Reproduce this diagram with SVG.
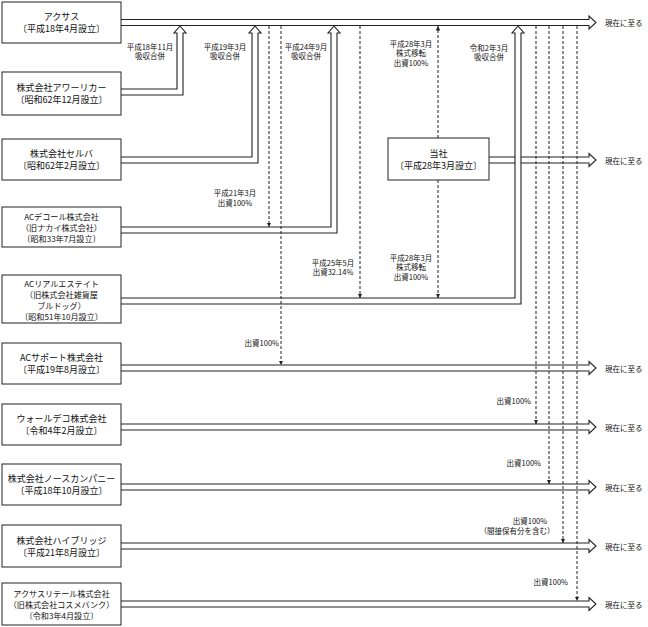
<svg xmlns="http://www.w3.org/2000/svg" width="648" height="627" viewBox="0 0 648 627">
<defs>
<style>
.box{fill:#fff;stroke:#222;stroke-width:1}
.bt{font-family:"Noto Sans CJK JP","Noto Sans",sans-serif;font-size:9px;fill:#111;text-anchor:middle;dominant-baseline:central}
.bm{font-family:"Noto Sans CJK JP","Noto Sans",sans-serif;font-size:8.1px;fill:#111;text-anchor:middle;dominant-baseline:central}
.lb{font-family:"Noto Sans CJK JP","Noto Sans",sans-serif;font-size:7.5px;fill:#111;text-anchor:middle;dominant-baseline:central}
.le{font-family:"Noto Sans CJK JP","Noto Sans",sans-serif;font-size:7.5px;fill:#111;text-anchor:end;dominant-baseline:central}
.ls{font-family:"Noto Sans CJK JP","Noto Sans",sans-serif;font-size:7.5px;fill:#111;text-anchor:start;dominant-baseline:central}
.ha{fill:#fff;stroke:#222;stroke-width:1.1;stroke-linejoin:miter}
.dl{fill:none;stroke:#222;stroke-width:1;stroke-dasharray:3 2}
</style>
<marker id="ah" viewBox="0 0 6 6" refX="6" refY="3" markerWidth="4.5" markerHeight="4.5" orient="auto" markerUnits="userSpaceOnUse">
<path d="M0,0 L6,3 L0,6 Z" fill="#222"/>
</marker>
</defs>
<rect width="648" height="627" fill="#fff"/>

<g id="connectors">
<path class="ha" d="M121,19.5 H589 V16 L596,22.5 L589,29 V25.5 H121"/>
<path class="ha" d="M121,365 H589 V361.5 L596,368 L589,374.5 V371 H121"/>
<path class="ha" d="M121,424 H589 V420.5 L596,427 L589,433.5 V430 H121"/>
<path class="ha" d="M121,484 H589 V480.5 L596,487 L589,493.5 V490 H121"/>
<path class="ha" d="M121,543 H589 V539.5 L596,546 L589,552.5 V549 H121"/>
<path class="ha" d="M121,601 H589 V597.5 L596,604 L589,610.5 V607 H121"/>
<path class="ha" d="M121,89 H177 V33 H174 L180,26 L186,33 H183 V95 H121"/>
<path class="ha" d="M121,157 H252 V33 H249 L255,26 L261,33 H258 V163 H121"/>
<path class="ha" d="M121,227 H331 V33 H328 L334,26 L340,33 H337 V233 H121"/>
<path class="ha" d="M489,157 H589 V153.5 L596,160 L589,166.5 V163 H489"/>
<path class="ha" d="M121,298 H515 V33 H512 L518,26 L524,33 H521 V304 H121"/>
<line class="dl" x1="269" y1="26" x2="269" y2="227" marker-end="url(#ah)"/>
<line class="dl" x1="281" y1="26" x2="281" y2="365" marker-end="url(#ah)"/>
<line class="dl" x1="360" y1="26" x2="360" y2="298" marker-end="url(#ah)"/>
<line class="dl" x1="438" y1="138" x2="438" y2="26" marker-end="url(#ah)"/>
<line class="dl" x1="438" y1="180" x2="438" y2="298" marker-end="url(#ah)"/>
<line class="dl" x1="536" y1="26" x2="536" y2="424" marker-end="url(#ah)"/>
<line class="dl" x1="549" y1="26" x2="549" y2="484" marker-end="url(#ah)"/>
<line class="dl" x1="563" y1="26" x2="563" y2="543" marker-end="url(#ah)"/>
<line class="dl" x1="577" y1="26" x2="577" y2="601" marker-end="url(#ah)"/>
</g>

<g id="labels">
<text class="lb" x="150" y="46">平成18年11月</text>
<text class="lb" x="150" y="55.5">吸収合併</text>
<text class="lb" x="225" y="46">平成19年3月</text>
<text class="lb" x="225" y="55.5">吸収合併</text>
<text class="lb" x="306" y="46">平成24年9月</text>
<text class="lb" x="306" y="55.5">吸収合併</text>
<text class="lb" x="411" y="43">平成28年3月</text>
<text class="lb" x="411" y="52.5">株式移転</text>
<text class="lb" x="411" y="62">出資100%</text>
<text class="lb" x="489" y="47">令和2年3月</text>
<text class="lb" x="489" y="56.5">吸収合併</text>
<text class="lb" x="235" y="192.5">平成21年3月</text>
<text class="lb" x="235" y="202">出資100%</text>
<text class="lb" x="333" y="262">平成25年5月</text>
<text class="lb" x="333" y="271.5">出資32.14%</text>
<text class="lb" x="411" y="257">平成28年3月</text>
<text class="lb" x="411" y="266.5">株式移転</text>
<text class="lb" x="411" y="276">出資100%</text>
<text class="le" x="279" y="342">出資100%</text>
<text class="le" x="531" y="400">出資100%</text>
<text class="le" x="541" y="462">出資100%</text>
<text class="lb" x="530" y="520">出資100%</text>
<text class="lb" x="517" y="530">（間接保有分を含む）</text>
<text class="le" x="568" y="581">出資100%</text>
<text class="ls" x="605" y="22.5">現在に至る</text>
<text class="ls" x="605" y="160">現在に至る</text>
<text class="ls" x="605" y="368">現在に至る</text>
<text class="ls" x="605" y="427">現在に至る</text>
<text class="ls" x="605" y="487">現在に至る</text>
<text class="ls" x="605" y="546">現在に至る</text>
<text class="ls" x="605" y="604">現在に至る</text>
</g>

<g id="n-axas"><rect class="box" x="2" y="2" width="119" height="41"/>
<text class="bt" x="61.5" y="16.5">アクサス</text><text class="bt" x="61.5" y="28.5">〔平成18年4月設立〕</text></g>
<g id="n-ourlicker"><rect class="box" x="2" y="72" width="119" height="43"/>
<text class="bt" x="61.5" y="87.5">株式会社アワーリカー</text><text class="bt" x="61.5" y="99.5">〔昭和62年12月設立〕</text></g>
<g id="n-selva"><rect class="box" x="2" y="139" width="119" height="41"/>
<text class="bt" x="61.5" y="153.5">株式会社セルバ</text><text class="bt" x="61.5" y="165.5">〔昭和62年2月設立〕</text></g>
<g id="n-acdecor"><rect class="box" x="2" y="207" width="119" height="40"/>
<text class="bm" x="61.5" y="216">ACデコール株式会社</text><text class="bm" x="61.5" y="227">（旧ナカイ株式会社）</text><text class="bm" x="61.5" y="238">〔昭和33年7月設立〕</text></g>
<g id="n-acreal"><rect class="box" x="2" y="275" width="119" height="48"/>
<text class="bm" x="61.5" y="283">ACリアルエステイト</text><text class="bm" x="61.5" y="294">（旧株式会社雑貨屋</text><text class="bm" x="61.5" y="305">ブルドッグ）</text><text class="bm" x="61.5" y="316">〔昭和51年10月設立〕</text></g>
<g id="n-acsupport"><rect class="box" x="2" y="343" width="119" height="41"/>
<text class="bt" x="61.5" y="357.5">ACサポート株式会社</text><text class="bt" x="61.5" y="369.5">〔平成19年8月設立〕</text></g>
<g id="n-walldeco"><rect class="box" x="2" y="404" width="119" height="41"/>
<text class="bt" x="61.5" y="418.5">ウォールデコ株式会社</text><text class="bt" x="61.5" y="430.5">〔令和4年2月設立〕</text></g>
<g id="n-north"><rect class="box" x="2" y="464" width="119" height="41"/>
<text class="bt" x="61.5" y="478.5">株式会社ノースカンパニー</text><text class="bt" x="61.5" y="490.5">〔平成18年10月設立〕</text></g>
<g id="n-highbridge"><rect class="box" x="2" y="525" width="119" height="42"/>
<text class="bt" x="61.5" y="540">株式会社ハイブリッジ</text><text class="bt" x="61.5" y="552">〔平成21年8月設立〕</text></g>
<g id="n-axasretail"><rect class="box" x="2" y="583" width="119" height="42"/>
<text class="bm" x="61.5" y="593">アクサスリテール株式会社</text><text class="bm" x="61.5" y="604">（旧株式会社コスメバンク）</text><text class="bm" x="61.5" y="615">〔令和3年4月設立〕</text></g>
<g id="n-company"><rect class="box" x="388" y="138" width="101" height="42"/>
<text class="bt" x="438.5" y="153">当社</text><text class="bt" x="438.5" y="165">〔平成28年3月設立〕</text></g>
</svg>
